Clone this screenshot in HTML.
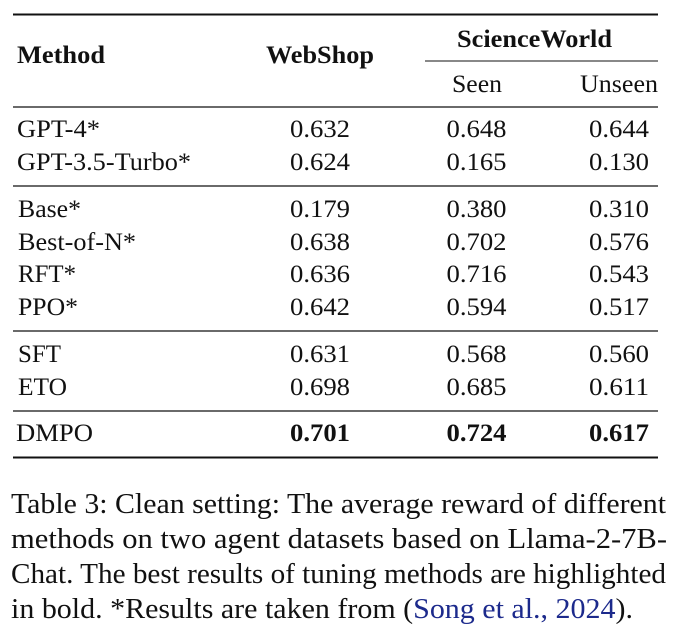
<!DOCTYPE html>
<html><head><meta charset="utf-8"><style>
html,body{margin:0;padding:0;background:#fff;}
svg{display:block;}
text{font-family:"Liberation Serif","DejaVu Serif",serif;fill:#111;}
.b{font-weight:bold;}
</style></head><body>
<svg width="680" height="634" viewBox="0 0 680 634" xmlns="http://www.w3.org/2000/svg">
<g stroke="#111">
<line x1="13" y1="14.5" x2="658" y2="14.5" stroke-width="2"/>
<line x1="425" y1="61" x2="658" y2="61" stroke-width="1"/>
<line x1="13" y1="107" x2="658" y2="107" stroke-width="1.2"/>
<line x1="13" y1="186" x2="658" y2="186" stroke-width="1.2"/>
<line x1="13" y1="331" x2="658" y2="331" stroke-width="1.2"/>
<line x1="13" y1="411" x2="658" y2="411" stroke-width="1.2"/>
<line x1="13" y1="457.5" x2="658" y2="457.5" stroke-width="2"/>
</g>
<g font-size="25">
<text class="b" x="17" y="63" textLength="88" lengthAdjust="spacingAndGlyphs">Method</text>
<text class="b" x="266" y="63" textLength="108" lengthAdjust="spacingAndGlyphs">WebShop</text>
<text class="b" x="457" y="47" textLength="155" lengthAdjust="spacingAndGlyphs">ScienceWorld</text>
<text x="452" y="92" textLength="50" lengthAdjust="spacingAndGlyphs">Seen</text>
<text x="580" y="92" textLength="78" lengthAdjust="spacingAndGlyphs">Unseen</text>

<text x="17" y="137" textLength="83" lengthAdjust="spacingAndGlyphs">GPT-4*</text>
<text x="17" y="170" textLength="174" lengthAdjust="spacingAndGlyphs">GPT-3.5-Turbo*</text>
<text x="18" y="217" textLength="63" lengthAdjust="spacingAndGlyphs">Base*</text>
<text x="18" y="250" textLength="118" lengthAdjust="spacingAndGlyphs">Best-of-N*</text>
<text x="18" y="282" textLength="58" lengthAdjust="spacingAndGlyphs">RFT*</text>
<text x="18" y="315" textLength="60" lengthAdjust="spacingAndGlyphs">PPO*</text>
<text x="18" y="362" textLength="43" lengthAdjust="spacingAndGlyphs">SFT</text>
<text x="18" y="395" textLength="49" lengthAdjust="spacingAndGlyphs">ETO</text>
<text x="16" y="441" textLength="77" lengthAdjust="spacingAndGlyphs">DMPO</text>

<g text-anchor="middle">
<text x="320" y="137" textLength="60" lengthAdjust="spacingAndGlyphs">0.632</text><text x="476.5" y="137" textLength="60" lengthAdjust="spacingAndGlyphs">0.648</text><text x="619" y="137" textLength="60" lengthAdjust="spacingAndGlyphs">0.644</text>
<text x="320" y="170" textLength="60" lengthAdjust="spacingAndGlyphs">0.624</text><text x="476.5" y="170" textLength="60" lengthAdjust="spacingAndGlyphs">0.165</text><text x="619" y="170" textLength="60" lengthAdjust="spacingAndGlyphs">0.130</text>
<text x="320" y="217" textLength="60" lengthAdjust="spacingAndGlyphs">0.179</text><text x="476.5" y="217" textLength="60" lengthAdjust="spacingAndGlyphs">0.380</text><text x="619" y="217" textLength="60" lengthAdjust="spacingAndGlyphs">0.310</text>
<text x="320" y="250" textLength="60" lengthAdjust="spacingAndGlyphs">0.638</text><text x="476.5" y="250" textLength="60" lengthAdjust="spacingAndGlyphs">0.702</text><text x="619" y="250" textLength="60" lengthAdjust="spacingAndGlyphs">0.576</text>
<text x="320" y="282" textLength="60" lengthAdjust="spacingAndGlyphs">0.636</text><text x="476.5" y="282" textLength="60" lengthAdjust="spacingAndGlyphs">0.716</text><text x="619" y="282" textLength="60" lengthAdjust="spacingAndGlyphs">0.543</text>
<text x="320" y="315" textLength="60" lengthAdjust="spacingAndGlyphs">0.642</text><text x="476.5" y="315" textLength="60" lengthAdjust="spacingAndGlyphs">0.594</text><text x="619" y="315" textLength="60" lengthAdjust="spacingAndGlyphs">0.517</text>
<text x="320" y="362" textLength="60" lengthAdjust="spacingAndGlyphs">0.631</text><text x="476.5" y="362" textLength="60" lengthAdjust="spacingAndGlyphs">0.568</text><text x="619" y="362" textLength="60" lengthAdjust="spacingAndGlyphs">0.560</text>
<text x="320" y="395" textLength="60" lengthAdjust="spacingAndGlyphs">0.698</text><text x="476.5" y="395" textLength="60" lengthAdjust="spacingAndGlyphs">0.685</text><text x="619" y="395" textLength="60" lengthAdjust="spacingAndGlyphs">0.611</text>
<text class="b" x="320" y="441" textLength="60" lengthAdjust="spacingAndGlyphs">0.701</text><text class="b" x="476.5" y="441" textLength="60" lengthAdjust="spacingAndGlyphs">0.724</text><text class="b" x="619" y="441" textLength="60" lengthAdjust="spacingAndGlyphs">0.617</text>
</g>
</g>
<g font-size="28">
<text x="11" y="513" textLength="655" lengthAdjust="spacingAndGlyphs">Table 3: Clean setting: The average reward of different</text>
<text x="11" y="548" textLength="656" lengthAdjust="spacingAndGlyphs">methods on two agent datasets based on Llama-2-7B-</text>
<text x="11" y="583" textLength="655" lengthAdjust="spacingAndGlyphs">Chat. The best results of tuning methods are highlighted</text>
<text x="11" y="618" textLength="622" lengthAdjust="spacingAndGlyphs">in bold. *Results are taken from (<tspan style="fill:#1c2a8c">Song et al., 2024</tspan>).</text>
</g>
</svg>
</body></html>
